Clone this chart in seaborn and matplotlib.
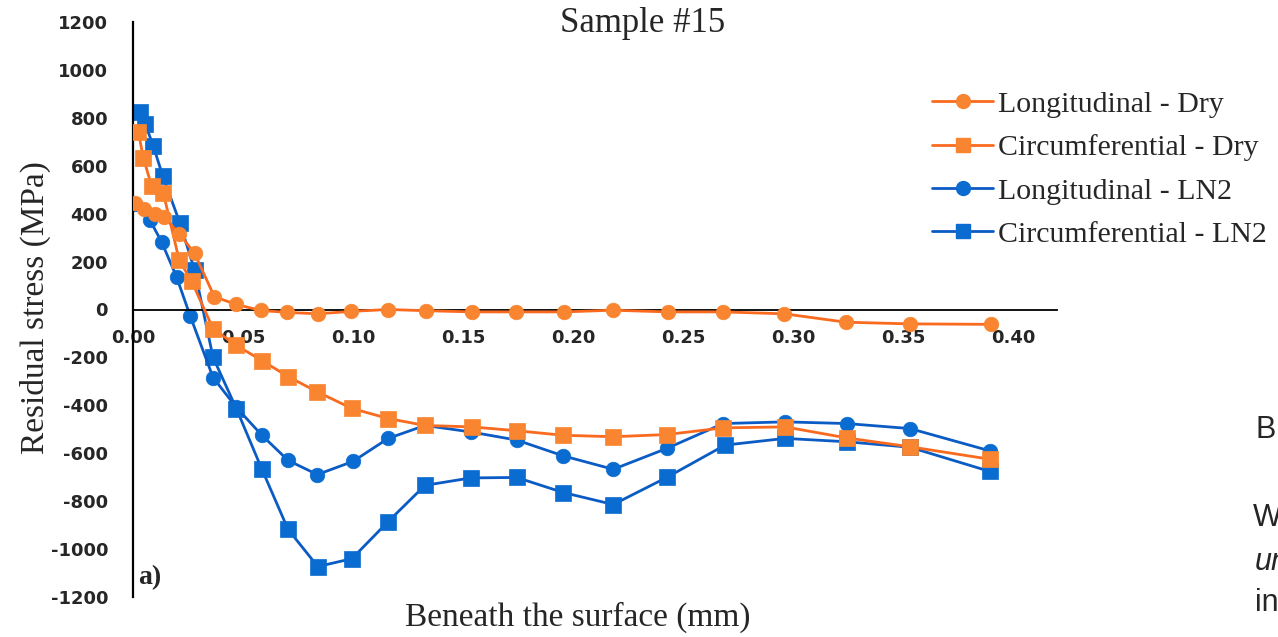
import numpy as np
import pandas as pd
import matplotlib
matplotlib.use("Agg")
import matplotlib.pyplot as plt
import seaborn as sns
from matplotlib.lines import Line2D

# ---- data (depth in mm, residual stress in MPa) ----
x_long_dry = [0.001, 0.005, 0.010, 0.014, 0.021, 0.028, 0.037, 0.047, 0.058, 0.070, 0.084, 0.099,
              0.116, 0.133, 0.154, 0.174, 0.196, 0.218, 0.243, 0.268, 0.296, 0.324, 0.353, 0.390]
y_long_dry = [445, 420, 400, 387, 317, 234, 53, 21, -4, -12, -18, -8,
              0, -5, -10, -10, -10, -3, -10, -10, -18, -53, -60, -62]

x_circ_dry = [0.0024, 0.0047, 0.0085, 0.0138, 0.021, 0.0267, 0.0364, 0.047, 0.0586, 0.0705, 0.0836,
              0.0995, 0.116, 0.1327, 0.154, 0.1744, 0.1956, 0.2183, 0.2426, 0.2683, 0.2964, 0.3244,
              0.3532, 0.3895]
y_circ_dry = [742, 633, 514, 486, 206, 117, -80, -150, -213, -280, -343,
              -413, -455, -484, -490, -506, -525, -531, -522, -494, -490, -536,
              -573, -625]

x_long_ln2 = [0.001, 0.0077, 0.013, 0.0198, 0.026, 0.0364, 0.047, 0.0586, 0.0705, 0.0838, 0.100,
              0.116, 0.1327, 0.1535, 0.1744, 0.1956, 0.2183, 0.2426, 0.2683, 0.2964, 0.3244,
              0.3532, 0.3895]
y_long_ln2 = [442, 373, 282, 136, -27, -284, -409, -525, -630, -689, -634,
              -538, -484, -511, -545, -611, -667, -580, -476, -469, -476,
              -497, -590]

x_circ_ln2 = [0.003, 0.0055, 0.0092, 0.0135, 0.0214, 0.028, 0.0364, 0.047, 0.0586, 0.0705, 0.084,
              0.0995, 0.116, 0.1327, 0.1535, 0.1744, 0.1956, 0.2183, 0.2426, 0.2691, 0.2964,
              0.3244, 0.3532, 0.3895]
y_circ_ln2 = [826, 776, 683, 558, 359, 164, -200, -414, -667, -918, -1073,
              -1040, -885, -734, -703, -701, -764, -814, -701, -566, -538,
              -552, -575, -676]

series_labels = ["Longitudinal - Dry", "Circumferential - Dry",
                 "Longitudinal - LN2", "Circumferential - LN2"]
x_ticks = [0.00, 0.05, 0.10, 0.15, 0.20, 0.25, 0.30, 0.35, 0.40]
y_ticks = list(range(-1200, 1201, 200))

# ---- style ----
sns.set_style("white")
plt.rcParams['font.family'] = ['DejaVu Sans']

ORANGE_LINE = "#FA6A1E"
ORANGE_MARK = "#F98530"
BLUE_LINE = "#0B5BC4"
BLUE_MARK = "#0A6CD0"

W, H = 1278, 637
fig = plt.figure(figsize=(W / 100, H / 100), dpi=100)
ax = fig.add_axes([133 / W, 1 - 597 / H, (1057 - 133) / W, (597 - 22) / H])

specs = [
    (x_circ_ln2, y_circ_ln2, series_labels[3], BLUE_LINE, BLUE_MARK, "s", 11, 2),
    (x_long_ln2, y_long_ln2, series_labels[2], BLUE_LINE, BLUE_MARK, "o", 10.5, 2),
    (x_circ_dry, y_circ_dry, series_labels[1], ORANGE_LINE, ORANGE_MARK, "s", 11, 3),
    (x_long_dry, y_long_dry, series_labels[0], ORANGE_LINE, ORANGE_MARK, "o", 10.5, 3),
]
for xs, ys, lab, lc, mc, mk, ms, z in specs:
    df = pd.DataFrame({"x": xs, "y": ys})
    sns.lineplot(data=df, x="x", y="y", ax=ax, color=lc, linewidth=2.0,
                 marker=mk, markersize=ms, markerfacecolor=mc, markeredgecolor=mc,
                 markeredgewidth=0.5, estimator=None, sort=False, legend=False, zorder=z)

# spines first (set_position resets tick styling)
for s in ["top", "right"]:
    ax.spines[s].set_visible(False)
ax.spines["bottom"].set_position(("data", 0))
ax.spines["bottom"].set_color("black")
ax.spines["bottom"].set_linewidth(1.3)
ax.spines["left"].set_color("black")
ax.spines["left"].set_linewidth(1.6)
ax.grid(False)

ax.set_xlim(0, 0.42)
ax.set_ylim(-1200, 1200)
ax.set_xticks(x_ticks)
ax.set_xticklabels([f"{v:.2f}" for v in x_ticks], fontweight="bold", fontsize=13)
ax.set_yticks(y_ticks)
ax.set_yticklabels([str(v) for v in y_ticks], fontweight="bold", fontsize=13)
ax.set_xlabel("")
ax.set_ylabel("")
ax.tick_params(axis="both", length=0)
ax.tick_params(axis="x", pad=14)
ax.tick_params(axis="y", pad=18)

serif = ["Liberation Serif", "DejaVu Serif"]
fig.text(643 / W, 1 - 23 / H, "Sample #15", family=serif, fontsize=25,
         ha="center", va="center")
fig.text(35 / W, 1 - 308 / H, "Residual stress (MPa)", family=serif, fontsize=24,
         rotation=90, ha="center", va="center")
fig.text(578 / W, 1 - 617 / H, "Beneath the surface (mm)", family=serif, fontsize=24,
         ha="center", va="center")
ax.text(0.0025, -1120, "a)", family=serif, fontsize=20, fontweight="bold",
        ha="left", va="center")

# legend
handles = [
    Line2D([], [], color=ORANGE_LINE, lw=2, marker="o", markersize=10,
           markerfacecolor=ORANGE_MARK, markeredgecolor=ORANGE_MARK),
    Line2D([], [], color=ORANGE_LINE, lw=2, marker="s", markersize=10,
           markerfacecolor=ORANGE_MARK, markeredgecolor=ORANGE_MARK),
    Line2D([], [], color=BLUE_LINE, lw=2, marker="o", markersize=10,
           markerfacecolor=BLUE_MARK, markeredgecolor=BLUE_MARK),
    Line2D([], [], color=BLUE_LINE, lw=2, marker="s", markersize=10,
           markerfacecolor=BLUE_MARK, markeredgecolor=BLUE_MARK),
]
fig.legend(handles, series_labels, loc="upper left",
           bbox_to_anchor=(932 / W, 1 - 91 / H), bbox_transform=fig.transFigure,
           frameon=False, prop={"family": serif, "size": 21.5},
           handlelength=2.05, handletextpad=0.15, labelspacing=0.55,
           borderpad=0, borderaxespad=0)

# fragments of surrounding page text at the right edge
sans = ["Liberation Sans", "DejaVu Sans"]
fig.text(1256 / W, 1 - 430 / H, "B", family=sans, fontsize=22, ha="left", va="center")
fig.text(1253 / W, 1 - 518 / H, "W", family=sans, fontsize=22, ha="left", va="center")
fig.text(1255 / W, 1 - 562 / H, "un", family=sans, fontsize=22, style="italic",
         ha="left", va="center")
fig.text(1255 / W, 1 - 603 / H, "in", family=sans, fontsize=22, ha="left", va="center")

fig.savefig("out.png", dpi=100)
